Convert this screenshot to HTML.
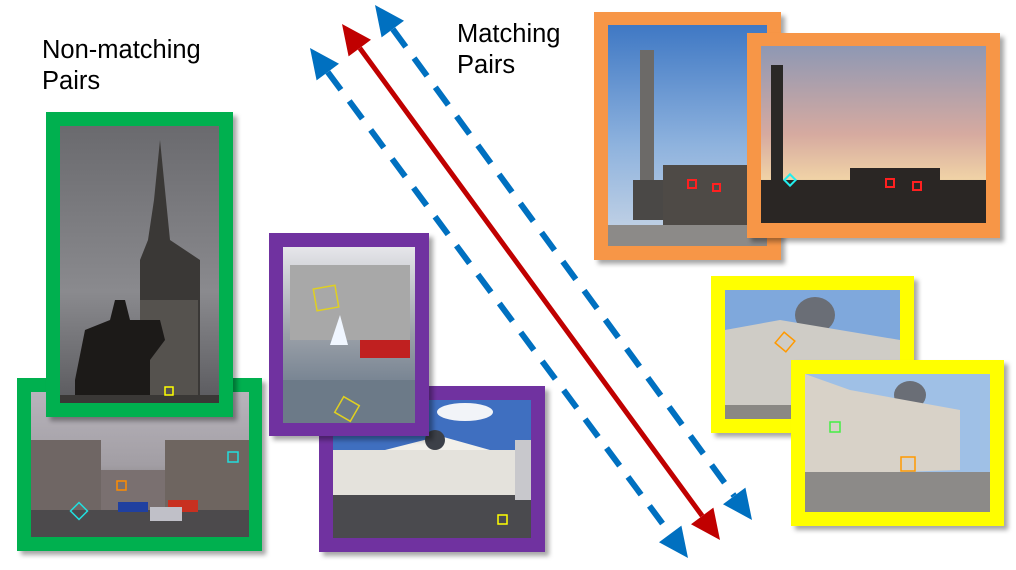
<!DOCTYPE html>
<html><head><meta charset="utf-8"><style>
html,body{margin:0;padding:0;background:#fff;}
svg{display:block;}
text{font-family:"Liberation Sans",Arial,sans-serif;}
</style></head><body>
<svg width="1016" height="570" viewBox="0 0 1016 570" xmlns="http://www.w3.org/2000/svg">
<defs>
<filter id="sh" x="-10%" y="-10%" width="130%" height="130%"><feDropShadow dx="4" dy="4" stdDeviation="2.5" flood-color="#000" flood-opacity="0.35"/></filter>
<linearGradient id="grey" x1="0" y1="0" x2="0" y2="1"><stop offset="0" stop-color="#6a6a6e"/><stop offset="0.6" stop-color="#8a8a8e"/><stop offset="1" stop-color="#5a5a5e"/></linearGradient>
<linearGradient id="overcast" x1="0" y1="0" x2="0" y2="1"><stop offset="0" stop-color="#b8b4bc"/><stop offset="0.5" stop-color="#a29ea4"/><stop offset="1" stop-color="#55504e"/></linearGradient>
<linearGradient id="blue" x1="0" y1="0" x2="0" y2="1"><stop offset="0" stop-color="#3f78c4"/><stop offset="0.55" stop-color="#8fb3de"/><stop offset="1" stop-color="#c9d6e6"/></linearGradient>
<linearGradient id="dusk" x1="0" y1="0" x2="0" y2="1"><stop offset="0" stop-color="#8e98b4"/><stop offset="0.5" stop-color="#d6aaa0"/><stop offset="0.75" stop-color="#f0d2a6"/><stop offset="1" stop-color="#302a28"/></linearGradient>
<linearGradient id="square" x1="0" y1="0" x2="0" y2="1"><stop offset="0" stop-color="#e6e6ea"/><stop offset="0.5" stop-color="#9aa0a8"/><stop offset="1" stop-color="#5a6c80"/></linearGradient>
</defs>

<text x="42" y="58" font-size="25.5" fill="#000">Non-matching</text>
<text x="42" y="89" font-size="25.5" fill="#000">Pairs</text>
<text x="457" y="42" font-size="25.5" fill="#000">Matching</text>
<text x="457" y="73" font-size="25.5" fill="#000">Pairs</text>

<!-- green wide -->
<g filter="url(#sh)"><rect x="17" y="378" width="245" height="173" fill="#00b050"/></g>
<rect x="31" y="392" width="218" height="145" fill="url(#overcast)"/>
<rect x="31" y="440" width="70" height="70" fill="#6f6664"/>
<rect x="165" y="440" width="84" height="70" fill="#6e6560"/>
<rect x="101" y="470" width="64" height="40" fill="#7a7070"/>
<rect x="31" y="510" width="218" height="27" fill="#4c4a4c"/>
<rect x="168" y="500" width="30" height="12" fill="#c83020"/>
<rect x="118" y="502" width="30" height="10" fill="#2040a0"/>
<rect x="150" y="507" width="32" height="14" fill="#c0c0c8"/>
<rect x="228" y="452" width="10" height="10" fill="none" stroke="#22dddd" stroke-width="1.5"/>
<rect x="117" y="481" width="9" height="9" fill="none" stroke="#ff8c00" stroke-width="1.5"/>
<rect x="73" y="505" width="12" height="12" fill="none" stroke="#22dddd" stroke-width="1.5" transform="rotate(45 79 511)"/>

<!-- green tall -->
<g filter="url(#sh)"><rect x="46" y="112" width="187" height="305" fill="#00b050"/></g>
<rect x="60" y="126" width="159" height="277" fill="url(#grey)"/>
<polygon points="160,140 154,200 148,240 140,260 140,395 200,395 200,260 170,240 166,200" fill="#3a3836"/>
<rect x="140" y="300" width="58" height="95" fill="#55524e"/>
<path d="M75,380 L85,330 L110,320 L115,300 L125,300 L130,320 L160,320 L165,340 L150,360 L150,395 L75,395 Z" fill="#1c1a18"/>
<rect x="60" y="395" width="159" height="8" fill="#3a3836"/>
<rect x="165" y="387" width="8" height="8" fill="none" stroke="#ffff00" stroke-width="1.5"/>

<!-- purple wide -->
<g filter="url(#sh)"><rect x="319" y="386" width="226" height="166" fill="#7030a0"/></g>
<rect x="333" y="400" width="198" height="138" fill="#3f6fc0"/>
<ellipse cx="465" cy="412" rx="28" ry="9" fill="#f2f4f8"/>
<rect x="333" y="450" width="198" height="50" fill="#e4e2dc"/>
<polygon points="385,450 440,436 490,450" fill="#f2f0ea"/>
<ellipse cx="435" cy="440" rx="10" ry="10" fill="#3c4048"/>
<rect x="333" y="495" width="198" height="43" fill="#4a4a4e"/>
<rect x="515" y="440" width="16" height="60" fill="#c8c8cc"/>
<rect x="498" y="515" width="9" height="9" fill="none" stroke="#ffff00" stroke-width="1.5"/>

<!-- purple tall -->
<g filter="url(#sh)"><rect x="269" y="233" width="160" height="203" fill="#7030a0"/></g>
<rect x="283" y="247" width="132" height="176" fill="url(#square)"/>
<rect x="290" y="265" width="120" height="75" fill="#a8a8a8"/>
<rect x="360" y="340" width="50" height="18" fill="#c02020"/>
<path d="M340,315 L348,345 L330,345 Z" fill="#f0f6ff"/>
<rect x="283" y="380" width="132" height="43" fill="#6c7a88"/>
<rect x="315" y="287" width="22" height="22" fill="none" stroke="#e0d020" stroke-width="1.5" transform="rotate(-10 326 298)"/>
<rect x="338" y="400" width="18" height="18" fill="none" stroke="#e0d020" stroke-width="1.5" transform="rotate(30 347 409)"/>

<!-- orange 1 -->
<g filter="url(#sh)"><rect x="594" y="12" width="187" height="248" fill="#f79646"/></g>
<rect x="608" y="25" width="159" height="221" fill="url(#blue)"/>
<rect x="640" y="50" width="14" height="130" fill="#6c6a68"/>
<rect x="633" y="180" width="30" height="40" fill="#4a4846"/>
<rect x="663" y="165" width="104" height="60" fill="#4e4a46"/>
<rect x="608" y="225" width="159" height="21" fill="#8c8a88"/>
<rect x="688" y="180" width="8" height="8" fill="none" stroke="#ff2020" stroke-width="2"/>
<rect x="713" y="184" width="7" height="7" fill="none" stroke="#ff2020" stroke-width="2"/>

<!-- orange 2 -->
<g filter="url(#sh)"><rect x="747" y="33" width="253" height="205" fill="#f79646"/></g>
<rect x="761" y="46" width="225" height="177" fill="url(#dusk)"/>
<rect x="771" y="65" width="12" height="140" fill="#2a2826"/>
<rect x="761" y="180" width="225" height="43" fill="#2a2624"/>
<rect x="850" y="168" width="90" height="15" fill="#2a2624"/>
<rect x="886" y="179" width="8" height="8" fill="none" stroke="#ff2020" stroke-width="2"/>
<rect x="913" y="182" width="8" height="8" fill="none" stroke="#ff2020" stroke-width="2"/>
<rect x="786" y="176" width="8" height="8" fill="none" stroke="#22eeee" stroke-width="2" transform="rotate(45 790 180)"/>

<!-- yellow 1 -->
<g filter="url(#sh)"><rect x="711" y="276" width="203" height="157" fill="#ffff00"/></g>
<rect x="725" y="290" width="175" height="129" fill="#7fa8dc"/>
<ellipse cx="815" cy="315" rx="20" ry="18" fill="#6a6e76"/>
<polygon points="725,330 780,320 900,340 900,419 725,419" fill="#cfccc6"/>
<rect x="725" y="405" width="175" height="14" fill="#8a8884"/>
<rect x="778" y="335" width="14" height="14" fill="none" stroke="#ff9900" stroke-width="1.5" transform="rotate(40 785 342)"/>

<!-- yellow 2 -->
<g filter="url(#sh)"><rect x="791" y="360" width="213" height="166" fill="#ffff00"/></g>
<rect x="805" y="374" width="185" height="138" fill="#9fc0e6"/>
<ellipse cx="910" cy="395" rx="16" ry="14" fill="#6a6e76"/>
<polygon points="805,374 850,390 960,410 960,470 805,475" fill="#d8d2c8"/>
<rect x="805" y="472" width="185" height="40" fill="#8c8a88"/>
<rect x="901" y="457" width="14" height="14" fill="none" stroke="#ff9900" stroke-width="1.5"/>
<rect x="830" y="422" width="10" height="10" fill="none" stroke="#44ee44" stroke-width="1.5"/>

<!-- arrows -->
<line x1="327.8" y1="72.1" x2="670.2" y2="533.9" stroke="#0070c0" stroke-width="6" stroke-dasharray="22 14"/>
<line x1="392.8" y1="29.1" x2="734.2" y2="495.9" stroke="#0070c0" stroke-width="6" stroke-dasharray="22 14"/>
<line x1="359.8" y1="48.1" x2="702.2" y2="515.9" stroke="#c00000" stroke-width="5"/>
<polygon points="310,48 339,63.8 316.6,80.4" fill="#0070c0"/>
<polygon points="375,5 404,20.8 381.6,37.4" fill="#0070c0"/>
<polygon points="342,24 371,39.8 348.6,56.4" fill="#c00000"/>
<polygon points="688,558 681.4,525.6 659,542.2" fill="#0070c0"/>
<polygon points="752,520 745.4,487.6 723,504.2" fill="#0070c0"/>
<polygon points="720,540 713.4,507.6 691,524.2" fill="#c00000"/>
</svg>
</body></html>
